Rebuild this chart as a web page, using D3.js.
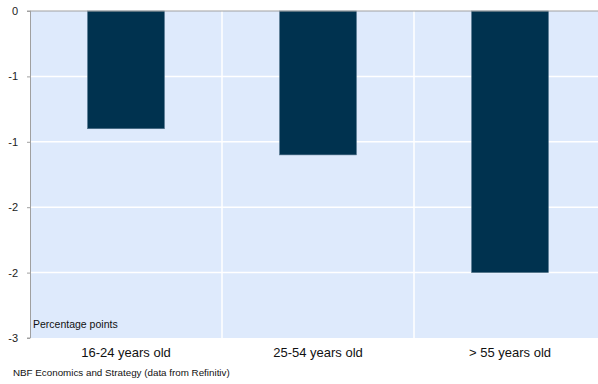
<!DOCTYPE html>
<html>
<head>
<meta charset="utf-8">
<script src="https://cdn.jsdelivr.net/npm/d3@7"></script>
<style>
  body { margin: 0; background: #fff; }
  svg { display: block; font-family: "Liberation Sans", Arial, sans-serif; }
</style>
</head>
<body>
<svg id="chart" width="598" height="384"></svg>
<script>
const categories = ["16-24 years old", "25-54 years old", "> 55 years old"]
const values = [-0.9, -1.1, -2.0]
const yTicks = [0, -0.5, -1, -1.5, -2, -2.5]

const svg = d3.select('#chart')
const plotLeft = 30, plotRight = 606, plotTop = 11, plotBottom = 338

const x = d3.scaleBand()
    .domain(categories)
    .range([plotLeft, plotRight])
    .paddingInner(0)
    .paddingOuter(0)

const y = d3.scaleLinear()
    .domain([-2.5, 0])
    .range([plotBottom, plotTop])

// plot background
svg.append('rect')
    .attr('x', plotLeft)
    .attr('y', plotTop)
    .attr('width', plotRight - plotLeft)
    .attr('height', plotBottom - plotTop)
    .attr('fill', '#deeafc')

// horizontal gridlines
svg.append('g')
    .selectAll('line')
    .data(yTicks.filter(d => d !== 0 && d !== -2.5))
    .join('line')
    .attr('x1', plotLeft)
    .attr('x2', plotRight)
    .attr('y1', d => y(d))
    .attr('y2', d => y(d))
    .attr('stroke', '#fff')
    .attr('stroke-width', 1.5)

// vertical lines between categories
svg.append('g')
    .selectAll('line')
    .data(categories.slice(1))
    .join('line')
    .attr('x1', d => x(d))
    .attr('x2', d => x(d))
    .attr('y1', plotTop)
    .attr('y2', plotBottom)
    .attr('stroke', '#fff')
    .attr('stroke-width', 1.5)

// bars
const barW = x.bandwidth() * 0.4
svg.append('g')
    .selectAll('rect')
    .data(values)
    .join('rect')
    .attr('x', (d, i) => x(categories[i]) + (x.bandwidth() - barW) / 2)
    .attr('y', y(0))
    .attr('width', barW)
    .attr('height', d => y(d) - y(0))
    .attr('fill', '#00324f')
    .attr('stroke', '#4d6f88')
    .attr('stroke-width', 0.6)

// y axis, labels rounded like the original (hyphen minus)
const yAxis = d3.axisLeft(y)
    .tickValues(yTicks)
    .tickSize(3)
    .tickPadding(9)
    .tickFormat(d => {
        const r = Math.round(Math.abs(d))
        return r === 0 ? '0' : '-' + r
    })
const gy = svg.append('g')
    .attr('transform', `translate(${plotLeft},0)`)
    .call(yAxis)
gy.select('.domain').attr('stroke', '#a0a0a0').attr('d', `M-3,${plotTop}H0.5V${plotBottom}H-3`)
gy.selectAll('.tick line').attr('stroke', '#a0a0a0')
gy.selectAll('.tick text').attr('font-size', 11).attr('fill', '#222')
    .style('font-family', '"Liberation Sans", Arial, sans-serif')

// zero line
svg.append('line')
    .attr('x1', plotLeft)
    .attr('x2', plotRight)
    .attr('y1', y(0))
    .attr('y2', y(0))
    .attr('stroke', '#a0a0a0')
    .attr('stroke-width', 1)

// category labels
svg.append('g')
    .selectAll('text')
    .data(categories)
    .join('text')
    .attr('x', d => x(d) + x.bandwidth() / 2)
    .attr('y', 357)
    .attr('text-anchor', 'middle')
    .attr('font-size', 13)
    .attr('fill', '#111')
    .text(d => d)

svg.append('text')
    .attr('x', 33)
    .attr('y', 328)
    .attr('font-size', 10.5)
    .attr('fill', '#111')
    .text('Percentage points')

svg.append('text')
    .attr('x', 13)
    .attr('y', 376)
    .attr('font-size', 9.8)
    .attr('fill', '#111')
    .text('NBF Economics and Strategy (data from Refinitiv)')
</script>
</body>
</html>
